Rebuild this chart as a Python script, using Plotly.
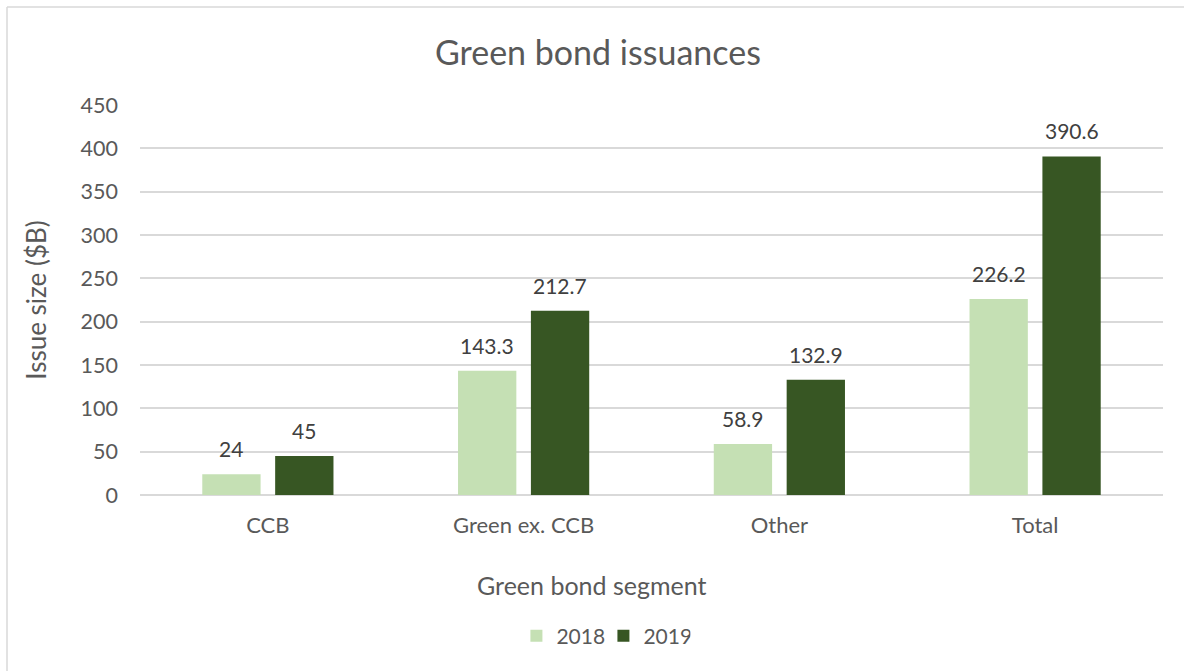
import plotly.graph_objects as go

# Green bond issuance by segment, $B
segments = ["CCB", "Green ex. CCB", "Other", "Total"]
issued_2018 = [24, 143.3, 58.9, 226.2]
issued_2019 = [45, 212.7, 132.9, 390.6]
years = ["2018", "2019"]
y_ticks = [0, 50, 100, 150, 200, 250, 300, 350, 400, 450]

W, H = 1184, 671
L, R, T, B = 140, 21, 105, 176
FONT = "Lato, Carlito, Calibri, sans-serif"
TEXT = "#595959"
LABEL = "#404040"
GRID = "#D9D9D9"
COLORS = ["#C5E0B4", "#375623"]
BARGAP, GROUPGAP = 0.43, 0.2


def fmt(v):
    return f"{v:g}"


fig = go.Figure()
series = [issued_2018, issued_2019]
for name, vals, col in zip(years, series, COLORS):
    fig.add_trace(go.Bar(
        name=name, x=segments, y=vals,
        marker=dict(color=col, line=dict(width=0)),
        hoverinfo="x+y+name",
    ))

# value labels above each bar, centred on the grouped bar slots
slot = (1 - BARGAP) / len(series)
annotations = []
for k, vals in enumerate(series):
    offset = (k - (len(series) - 1) / 2) * slot
    for i, v in enumerate(vals):
        annotations.append(dict(
            x=i + offset, y=v, xref="x", yref="y",
            text=fmt(v), showarrow=False, yanchor="bottom", yshift=11,
            font=dict(family=FONT, size=21, color=LABEL),
        ))

pw, ph = W - L - R, H - T - B


def px_x(p):
    return (p - L) / pw


def px_y(p):
    return (H - B - p) / ph


# x-axis title, centred on the whole chart rather than the plot area
annotations.append(dict(
    x=px_x(591), y=px_y(585), xref="paper", yref="paper",
    text="Green bond segment", showarrow=False,
    xanchor="center", yanchor="middle",
    font=dict(family=FONT, size=25, color=TEXT),
))

# light frame around the chart area
frame = dict(type="line", xref="paper", yref="paper",
             line=dict(color=GRID, width=1.5), layer="below")
shapes = [
    dict(frame, x0=px_x(7), x1=px_x(7), y0=px_y(7), y1=px_y(H + 5)),
    dict(frame, x0=px_x(7), x1=px_x(W + 5), y0=px_y(7), y1=px_y(7)),
]

fig.update_layout(
    width=W, height=H,
    margin=dict(l=L, r=R, t=T, b=B, autoexpand=False),
    paper_bgcolor="white", plot_bgcolor="white",
    font=dict(family=FONT, color=TEXT, size=21),
    barmode="group", bargap=BARGAP, bargroupgap=GROUPGAP,
    title=dict(text="Green bond issuances", x=0.505, xanchor="center",
               y=1 - 53 / H, yanchor="middle",
               font=dict(family=FONT, size=34, color=TEXT)),
    xaxis=dict(
        showgrid=False, showline=False, ticks="", zeroline=False,
        tickfont=dict(size=22, color=TEXT), ticklabelstandoff=15,
    ),
    yaxis=dict(
        range=[0, 450], tickvals=y_ticks, showgrid=True, gridcolor=GRID,
        gridwidth=1.5, zeroline=True, zerolinecolor=GRID, zerolinewidth=1.5,
        showline=False, ticks="", tickfont=dict(size=21.5, color=TEXT),
        ticklabelstandoff=21,
        title=dict(text="Issue size ($B)", standoff=26,
                   font=dict(size=26, color=TEXT)),
    ),
    legend=dict(orientation="h", x=0.453, xanchor="center",
                y=px_y(636), yanchor="middle",
                font=dict(size=21, color=TEXT), itemwidth=30,
                entrywidth=42, entrywidthmode="pixels",
                bgcolor="rgba(0,0,0,0)"),
    annotations=annotations,
    shapes=shapes,
)

fig.write_html("out.html")
